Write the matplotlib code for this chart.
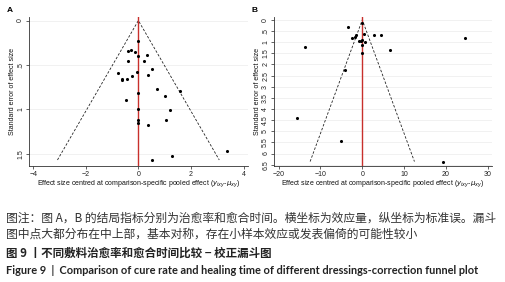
import numpy as np
import matplotlib
matplotlib.use("Agg")
import matplotlib.pyplot as plt

# panel A: cure rate (effect centred, standard error)
a_effect = [0.0, -0.40, -0.28, -0.14, 0.32, 0.0, -0.38, 0.22, 0.53, -0.76,
            -0.06, -0.44, -0.61, -0.63, -0.23, 0.35, 0.70, 1.60, 0.0, 1.00,
            -0.46, 0.0, 1.22, 0.0, 0.0, 1.05, 0.35, 3.39, 1.28, 0.53]
a_se = [0.23, 0.34, 0.33, 0.35, 0.39, 0.40, 0.46, 0.455, 0.54, 0.59,
        0.585, 0.655, 0.66, 0.67, 0.625, 0.61, 0.775, 0.79, 0.82, 0.845,
        0.90, 1.00, 1.01, 1.12, 1.15, 1.115, 1.18, 1.47, 1.53, 1.57]

# panel B: healing time
b_effect = [-3.5, 0.0, 0.32, 2.7, 4.46, 24.6, -2.47, -1.67, -1.43, -0.72,
            -0.32, 0.0, 0.64, 0.0, -13.6, 6.7, 0.0, -4.14, -15.5, -5.1, 19.2]
b_se = [0.30, 0.12, 0.63, 0.69, 0.69, 0.82, 0.82, 0.75, 0.70, 0.93,
        0.93, 0.90, 0.99, 1.14, 1.21, 1.36, 1.47, 2.23, 4.40, 5.45, 6.36]

a_yticks = [0, 0.5, 1, 1.5]
a_ylabels = ["0", ".5", "1", "1.5"]
a_xticks = [-4, -2, 0, 2, 4]
b_yticks = [0, 0.5, 1, 1.5, 2, 2.5, 3, 3.5, 4, 4.5, 5, 5.5, 6, 6.5]
b_ylabels = ["0", ".5", "1", "1.5", "2", "2.5", "3", "3.5", "4", "4.5",
             "5", "5.5", "6", "6.5"]
b_xticks = [-20, -10, 0, 10, 20, 30]

xlabel = r"Effect size centred at comparison-specific pooled effect ($y_{ixy}$-$\mu_{xy}$)"
ylabel = "Standard error of effect size"

caption1 = "图注：图 A，B 的结局指标分别为治愈率和愈合时间。横坐标为效应量，纵坐标为标准误。漏斗"
caption2 = "图中点大都分布在中上部，基本对称，存在小样本效应或发表偏倚的可能性较小"
caption3 = "图 9 丨不同敷料治愈率和愈合时间比较 − 校正漏斗图"
caption4 = "Figure 9  |  Comparison of cure rate and healing time of different dressings-correction funnel plot"

W, H = 505, 282
fig = plt.figure(figsize=(W / 100, H / 100), dpi=100)
fig.patch.set_facecolor("white")

plt.rcParams["font.family"] = ["Liberation Sans", "DejaVu Sans"]


def funnel(ax, effect, se, yticks, ylabels, xticks, xlim, ylim):
    se_max = max(se)
    ax.plot([-1.96 * se_max, 0, 1.96 * se_max], [se_max, 0, se_max],
            color="#222222", lw=0.6, ls=(0, (3, 2)), zorder=2)
    ax.axvline(0, color="#c8302c", lw=1.0, zorder=3)
    ax.scatter(effect, se, s=5, color="black", zorder=4, linewidths=0)
    ax.set_xlim(*xlim)
    ax.set_ylim(*ylim)
    ax.set_yticks(yticks)
    ax.set_yticklabels(ylabels, rotation=90, va="center")
    ax.set_xticks(xticks)
    for t in yticks:
        ax.axhline(t, color="#ececec", lw=0.5, zorder=1)
    for s in ["top", "right"]:
        ax.spines[s].set_visible(False)
    for s in ["left", "bottom"]:
        ax.spines[s].set_linewidth(0.6)
        ax.spines[s].set_color("#333333")
    ax.tick_params(labelsize=5, length=2, width=0.5, pad=1.5, colors="#222222")
    ax.set_xlabel(xlabel, fontsize=5, labelpad=0.5, color="#111111")
    ax.set_ylabel(ylabel, fontsize=5, labelpad=1, color="#111111")


ax_a = fig.add_axes([29 / W, 1 - 166 / H, 219 / W, 149 / H])
funnel(ax_a, a_effect, a_se, a_yticks, a_ylabels, a_xticks, (-4.16, 4.17), (1.638, -0.04))

ax_b = fig.add_axes([274 / W, 1 - 166 / H, 218 / W, 149 / H])
funnel(ax_b, b_effect, b_se, b_yticks, b_ylabels, b_xticks, (-21.1, 31.0), (6.56, -0.13))

fig.text(7 / W, 1 - 10 / H, "A", fontsize=6, fontweight="bold", va="center")
fig.text(251 / W, 1 - 10 / H, "B", fontsize=6, fontweight="bold", va="center")

cjk = ["Noto Sans CJK SC", "DejaVu Sans"]
fig.text(6 / W, 1 - 218 / H, caption1, fontsize=8.5, family=cjk, color="#333333", va="center")
fig.text(6 / W, 1 - 234 / H, caption2, fontsize=8.5, family=cjk, color="#333333", va="center")
fig.text(6 / W, 1 - 253 / H, caption3, fontsize=8.3, family=cjk, color="#222222",
         va="center", fontweight="bold")
fig.text(6 / W, 1 - 271 / H, caption4, fontsize=7.9, family=["Lato", "DejaVu Sans"],
         color="#222222", va="center", fontweight="bold")

fig.savefig("out.png", dpi=100)
